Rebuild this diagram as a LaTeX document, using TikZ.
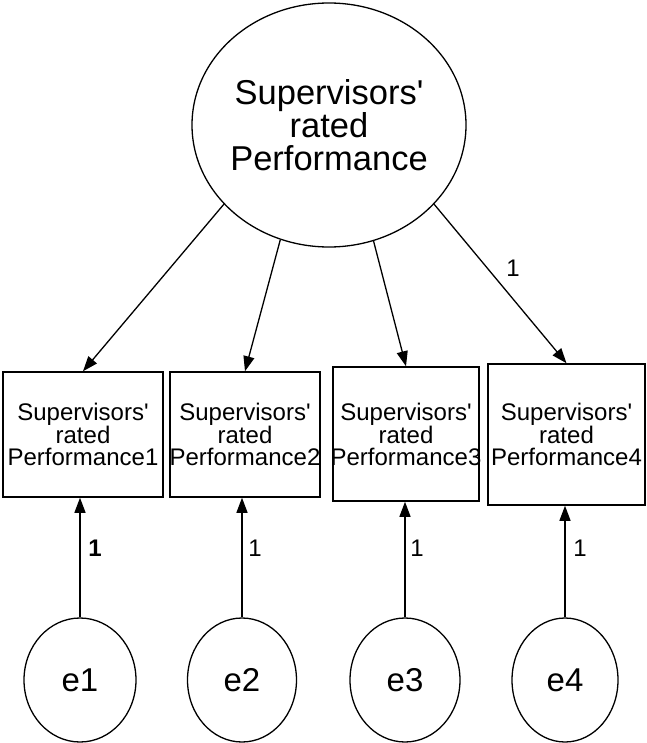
\documentclass[tikz,border=0pt]{standalone}
\usepackage{fontspec}
\setmainfont{Liberation Sans}[Ligatures=TeXOff]
\usetikzlibrary{arrows.meta,shapes.geometric}
\begin{document}
\begin{tikzpicture}[x=1pt,y=-1pt,
  latent/.style={draw, ellipse, line width=1.3pt, inner sep=0pt, align=center},
  observed/.style={draw, rectangle, line width=1.5pt, inner xsep=-10pt, inner ysep=0pt,
    align=center, font=\fontsize{24}{21.7}\selectfont},
  loading/.style={line width=1.3pt, -{Triangle[length=15pt,width=11pt]}},
  coef/.style={font=\fontsize{24}{24}\selectfont, inner sep=0pt},
  errlabel/.style={font=\fontsize{33}{33}\selectfont}]
\useasboundingbox (0,0) rectangle (646,743);

% latent factor
\node[latent, minimum width=274pt, minimum height=244pt, inner xsep=-8pt,
  font=\fontsize{34.5}{33}\selectfont] (F) at (329,125) {Supervisors'\\rated\\Performance};

% observed indicators
\node[observed, minimum width=160pt, minimum height=125pt] (b1) at (83,434.5) {Supervisors'\\rated\\Performance1};
\node[observed, minimum width=150pt, minimum height=125pt] (b2) at (245,434.5) {Supervisors'\\rated\\Performance2};
\node[observed, minimum width=146pt, minimum height=134pt] (b3) at (406,434) {Supervisors'\\rated\\Performance3};
\node[observed, minimum width=157pt, minimum height=141pt] (b4) at (566.5,434.5) {Supervisors'\\rated\\Performance4};

% error terms
\node[latent, errlabel, minimum width=112pt, minimum height=124pt] (e1) at (80,680) {e1};
\node[latent, errlabel, minimum width=109pt, minimum height=124pt] (e2) at (242,680) {e2};
\node[latent, errlabel, minimum width=110pt, minimum height=124pt] (e3) at (405,680) {e3};
\node[latent, errlabel, minimum width=106pt, minimum height=124pt] (e4) at (565,680) {e4};

% factor loadings
\draw[loading] (F.217) -- (b1.north);
\draw[loading] (F.247) -- (b2.north);
\draw[loading] (F.291.5) -- (b3.north);
\draw[loading] (F.323) -- (b4.north);
\node[coef] (w4) at (513,268) {1};

% error paths
\draw[loading] (e1.north) -- (e1.north |- b1.south);
\draw[loading] (e2.north) -- (e2.north |- b2.south);
\draw[loading] (e3.north) -- (e3.north |- b3.south);
\draw[loading] (e4.north) -- (e4.north |- b4.south);
\node[coef, font=\bfseries\fontsize{24}{24}\selectfont] (c1) at (95,548) {1};
\node[coef] (c2) at (255,548) {1};
\node[coef] (c3) at (417,548) {1};
\node[coef] (c4) at (580,548) {1};
\end{tikzpicture}
\end{document}
